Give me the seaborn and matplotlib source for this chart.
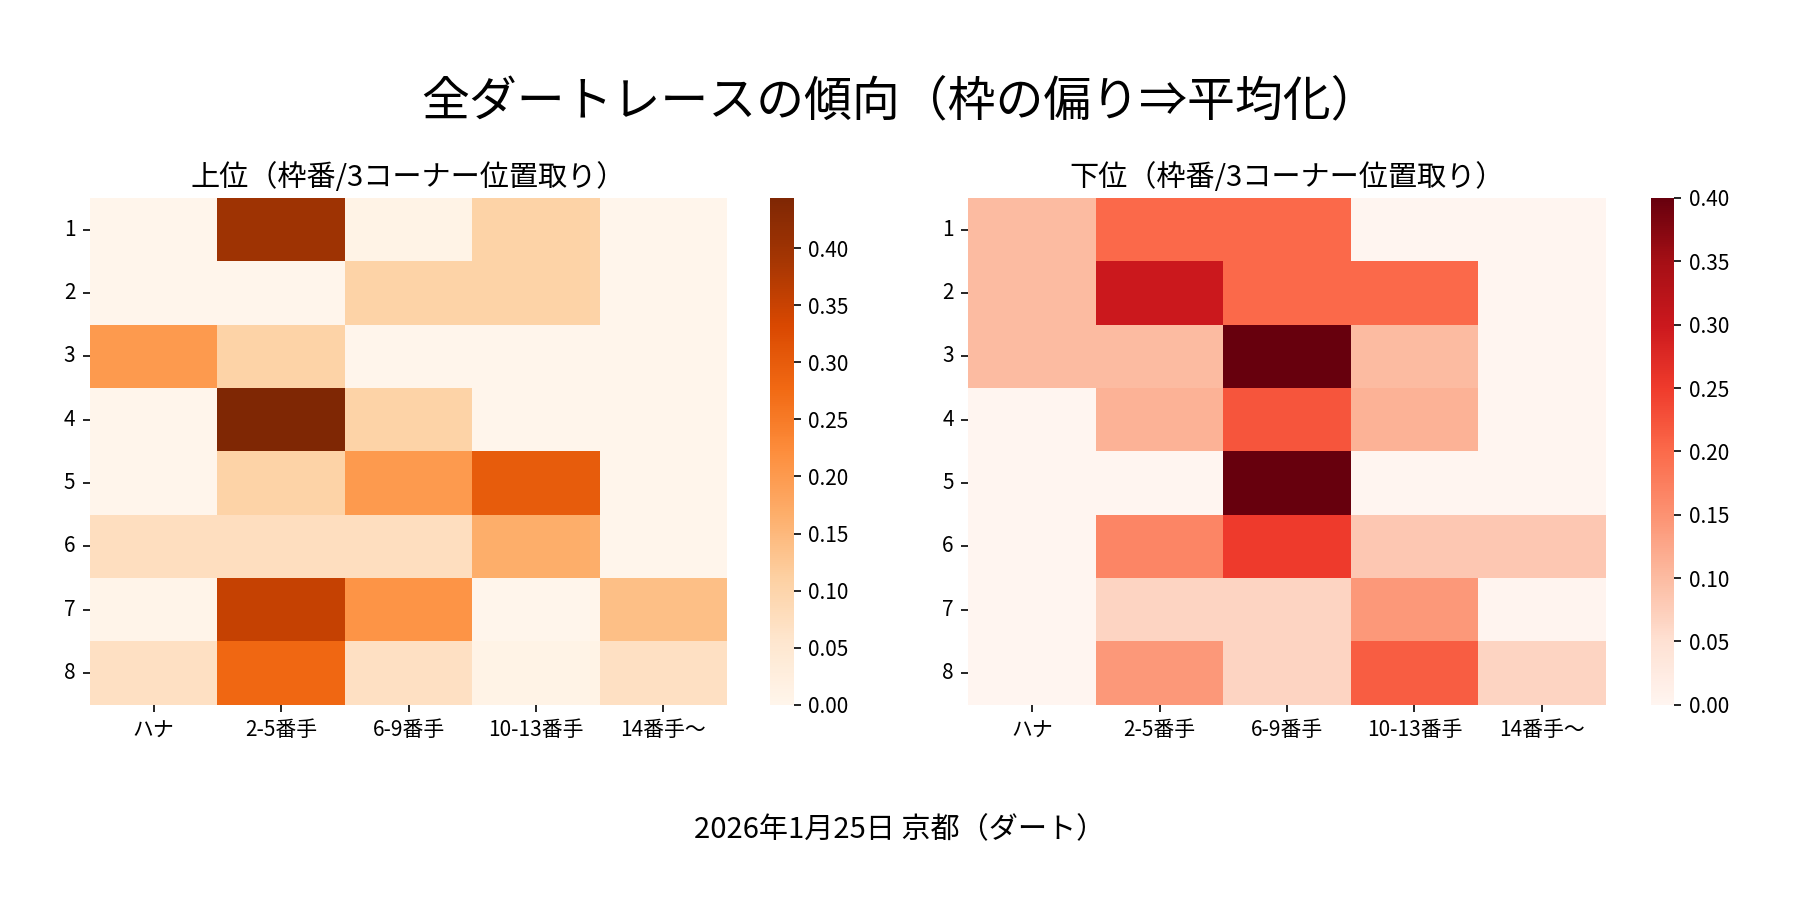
import numpy as np
import pandas as pd
import matplotlib
matplotlib.use("Agg")
import matplotlib.pyplot as plt
import seaborn as sns

plt.rcParams["font.family"] = ["Noto Sans CJK JP", "DejaVu Sans"]

# ── データ ───────────────────────────────────────────────
WAKU = ["1", "2", "3", "4", "5", "6", "7", "8"]
POSITIONS = ["ハナ", "2-5番手", "6-9番手", "10-13番手", "14番手〜"]

# 上位（枠番 × 3コーナー位置取り）
upper = [
    [0.000, 0.400, 0.010, 0.105, 0.000],
    [0.000, 0.000, 0.105, 0.105, 0.000],
    [0.200, 0.105, 0.000, 0.000, 0.000],
    [0.000, 0.444, 0.105, 0.000, 0.000],
    [0.000, 0.105, 0.200, 0.300, 0.000],
    [0.075, 0.075, 0.075, 0.167, 0.000],
    [0.005, 0.355, 0.210, 0.000, 0.140],
    [0.070, 0.280, 0.070, 0.010, 0.070],
]

# 下位（枠番 × 3コーナー位置取り）
lower = [
    [0.100, 0.200, 0.200, 0.000, 0.000],
    [0.100, 0.300, 0.200, 0.200, 0.000],
    [0.100, 0.100, 0.400, 0.100, 0.000],
    [0.000, 0.111, 0.222, 0.111, 0.000],
    [0.000, 0.000, 0.400, 0.000, 0.000],
    [0.000, 0.167, 0.250, 0.083, 0.083],
    [0.000, 0.067, 0.067, 0.143, 0.003],
    [0.000, 0.143, 0.067, 0.214, 0.067],
]

df_upper = pd.DataFrame(upper, index=WAKU, columns=POSITIONS)
df_lower = pd.DataFrame(lower, index=WAKU, columns=POSITIONS)

# ── 描画 ─────────────────────────────────────────────────
fig = plt.figure(figsize=(12, 6), dpi=150)

ax1 = fig.add_axes([0.050, 0.217, 0.354, 0.563])
cax1 = fig.add_axes([0.428, 0.217, 0.013, 0.563])
ax2 = fig.add_axes([0.538, 0.217, 0.354, 0.563])
cax2 = fig.add_axes([0.917, 0.217, 0.013, 0.563])

sns.heatmap(df_upper, cmap="Oranges", vmin=0, ax=ax1, cbar_ax=cax1)
sns.heatmap(df_lower, cmap="Reds", vmin=0, vmax=0.40, ax=ax2, cbar_ax=cax2)

for ax, title in [(ax1, "上位（枠番/3コーナー位置取り）"),
                  (ax2, "下位（枠番/3コーナー位置取り）")]:
    ax.set_title(title, fontsize=14)
    ax.set_xlabel("")
    ax.set_ylabel("")
    ax.tick_params(axis="y", labelrotation=0)
    ax.tick_params(axis="x", labelrotation=0)

fig.suptitle("全ダートレースの傾向（枠の偏り⇒平均化）", fontsize=23, y=0.915)
fig.text(0.5, 0.077, "2026年1月25日 京都（ダート）", ha="center", va="center", fontsize=14)

fig.savefig("out.png", dpi=150)
